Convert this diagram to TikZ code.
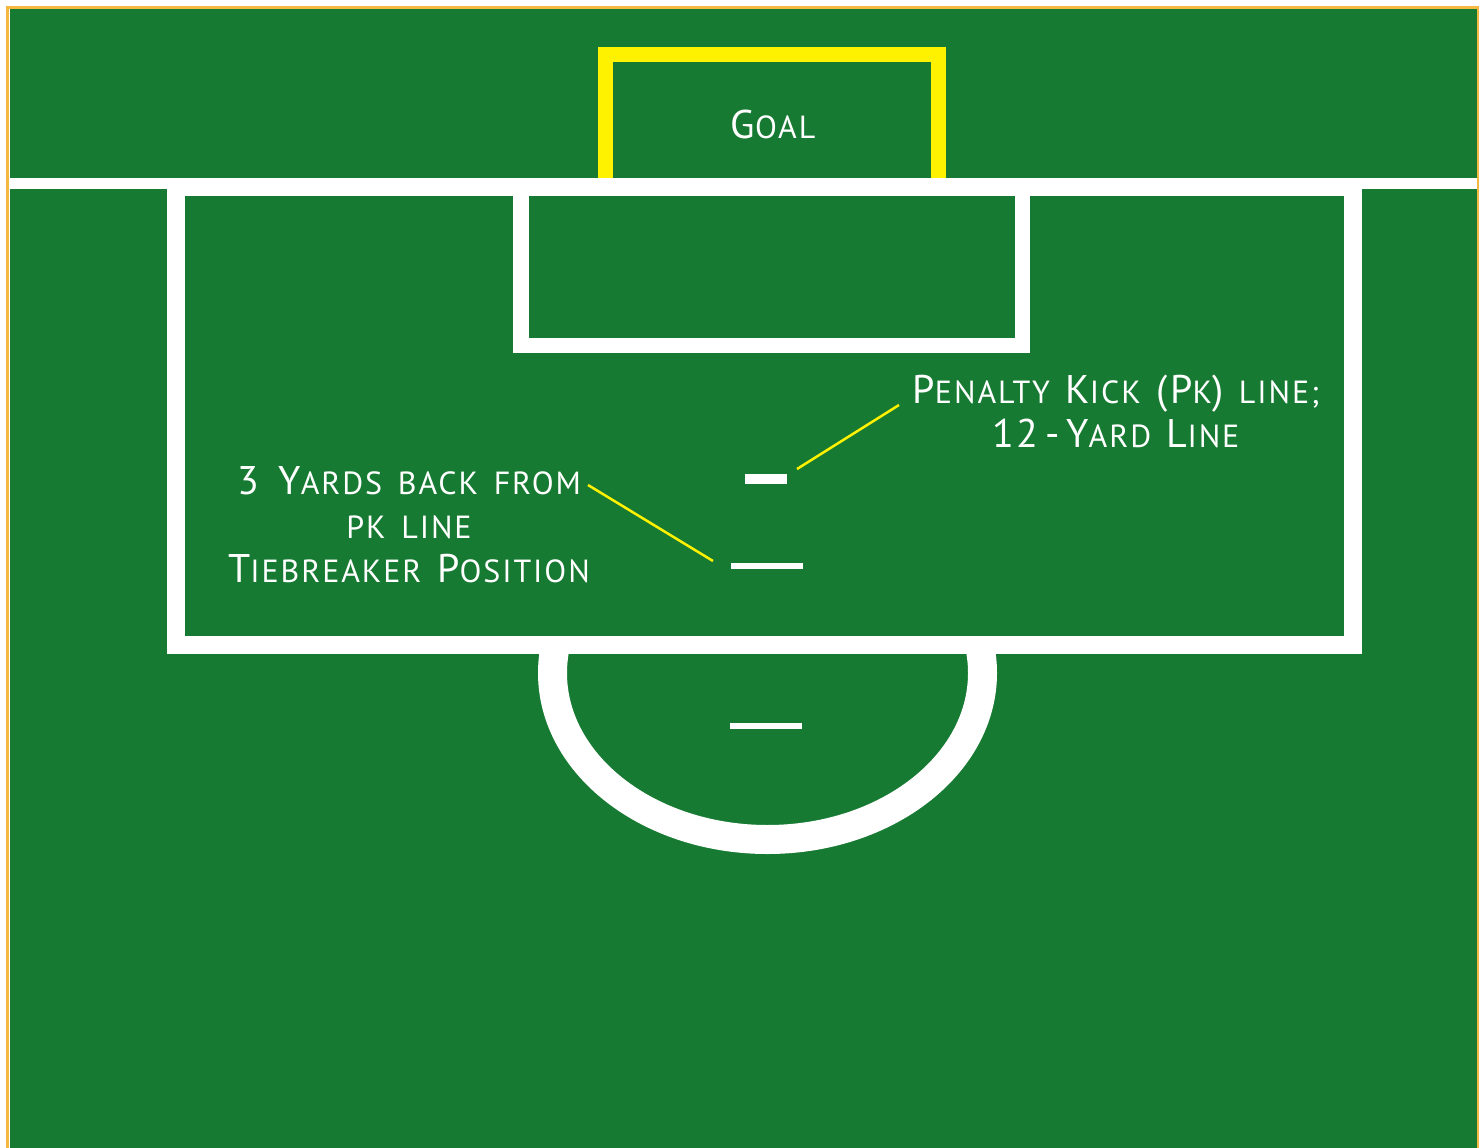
\documentclass[tikz,border=0pt]{standalone}
\usepackage{fontspec}
\newfontfamily\labfont[LetterSpace=6,WordSpace=1.5]{PT Sans}
\definecolor{pitch}{RGB}{23,122,50}
\definecolor{goalyellow}{RGB}{255,242,0}
\definecolor{frameorange}{RGB}{245,185,66}
\newcommand\BigL[1]{{\fontsize{40}{44}\selectfont #1}}
\tikzset{
  lbl/.style={text=white, font=\labfont\fontsize{32}{44}\selectfont, align=center, inner sep=0pt},
  fieldline/.style={draw=white, line width=#1},
  callout/.style={draw=goalyellow, line width=2.5pt},
  spotmark/.style={fill=white, inner sep=0pt, outer sep=0pt, minimum height=#1},
}
\begin{document}
\begin{tikzpicture}[x=1pt,y=-1pt]
\useasboundingbox (0,0) rectangle (1483,1148);
\fill[white] (0,0) rectangle (1483,1148);
% frame and pitch
\fill[pitch] (9.5,9.5) rectangle (1476.5,1148);
\draw[frameorange, line width=2.5pt] (7.5,1150) -- (7.5,7.5) -- (1478,7.5) -- (1478,1150);
% goal (yellow)
\draw[goalyellow, line width=15pt] (605,178) -- (605,55) -- (938,55) -- (938,178);
% goal line
\fill[white] (9.5,178) rectangle (1476.5,189);
% penalty arc
\begin{scope}
  \clip (0,650) rectangle (1483,1000);
  \draw[fieldline=29pt] (767.5,673) ellipse [x radius=215, y radius=166.5];
\end{scope}
% penalty box
\draw[fieldline=18pt] (175.5,187) rectangle (1352.5,644.5);
% goal area
\draw[fieldline=15.5pt] (521,187) rectangle (1022.5,345.5);
% spots
\node[spotmark=10pt, minimum width=42pt] (pkmark) at (766,479) {};
\node[spotmark=6pt, minimum width=72pt] (tbmark) at (767,566) {};
\node[spotmark=6pt, minimum width=72pt] (arcmark) at (766,726) {};
% labels
\node[lbl] (goal) at (773,124) {\BigL{G}OAL};
\node[lbl] (pktext) at (1116,411) {\BigL{P}ENALTY \BigL{K}ICK \BigL{(P}K\BigL{)} LINE;\\\BigL{12\,-\,Y}ARD \BigL{L}INE};
\node[lbl] (tbtext) at (409,525) {\BigL{3 Y}ARDS BACK FROM\\PK LINE\\\BigL{T}IEBREAKER \BigL{P}OSITION};
% callouts
\coordinate (pkA) at (797,469);
\coordinate (pkB) at (899,405);
\coordinate (tbA) at (588,485);
\coordinate (tbB) at (713,561);
\draw[callout] (pkA) -- (pkB);
\draw[callout] (tbA) -- (tbB);
\end{tikzpicture}
\end{document}
